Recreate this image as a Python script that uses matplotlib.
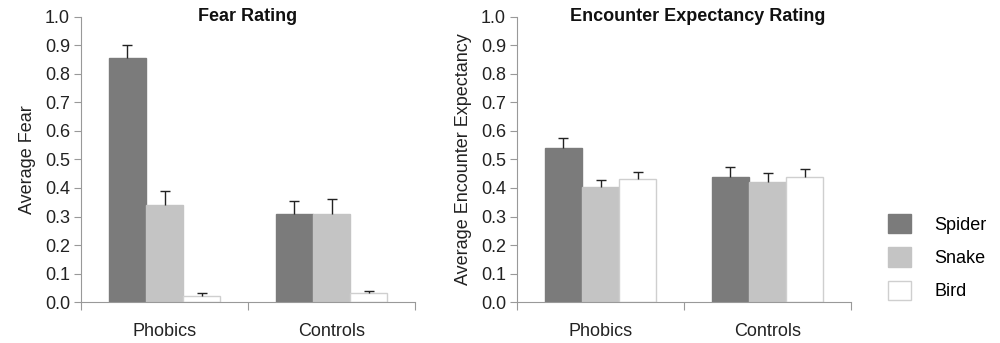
import numpy as np
import matplotlib
matplotlib.use('Agg')
from matplotlib import pyplot as plt

plt.rcParams['font.family'] = ['Liberation Sans', 'DejaVu Sans']

# data
grupos = ['Phobics', 'Controls']
especies = ['Spider', 'Snake', 'Bird']
cores = ['#7b7b7b', '#c4c4c4', '#ffffff']
bordas = ['#7b7b7b', '#c4c4c4', '#cfcfcf']

medo = [[0.855, 0.31], [0.34, 0.31], [0.022, 0.030]]
medo_err = [[0.045, 0.045], [0.05, 0.05], [0.008, 0.008]]

expect = [[0.54, 0.44], [0.405, 0.422], [0.43, 0.44]]
expect_err = [[0.035, 0.032], [0.022, 0.030], [0.025, 0.025]]

fs = 13

fig = plt.figure(figsize=(10, 3.43), dpi=100)
ax1 = fig.add_axes([0.081, 0.1195, 0.334, 0.831])
ax2 = fig.add_axes([0.517, 0.1195, 0.334, 0.831])

def painel(ax, vals, errs, titulo, ylabel, tx):
    x = np.arange(len(grupos)) + 0.5
    w = 0.222
    for i, (v, e) in enumerate(zip(vals, errs)):
        ax.bar(x + (i - 1) * w, v, w, color=cores[i], edgecolor=bordas[i],
               linewidth=1.0, label=especies[i], zorder=2)
        eb = ax.errorbar(x + (i - 1) * w, v, yerr=[np.zeros(len(e)), e], fmt='none',
                         ecolor='#222222', elinewidth=1.0, capsize=3.5, capthick=1.0, zorder=3)
        eb[1][0].set_visible(False)  # sem tampa embaixo
    ax.set_xlim(0, 2)
    ax.set_ylim(0, 1.0)
    ax.set_yticks(np.arange(0, 1.01, 0.1))
    ax.set_yticklabels(['%.1f' % t for t in np.arange(0, 1.01, 0.1)], fontsize=fs, color='#222222')
    ax.set_xticks([0, 1, 2])
    ax.set_xticklabels(['', '', ''])
    ax.set_xticks(x, minor=True)
    ax.set_xticklabels(grupos, minor=True, fontsize=fs, color='#222222')
    ax.tick_params(axis='x', which='major', direction='out', length=6, color='#999999')
    ax.tick_params(axis='x', which='minor', length=0, pad=15)
    ax.tick_params(axis='y', direction='out', length=5, color='#999999', pad=3)
    for s in ['top', 'right']:
        ax.spines[s].set_visible(False)
    for s in ['left', 'bottom']:
        ax.spines[s].set_color('#999999')
    ax.text(tx, 1.0, titulo, transform=ax.transAxes, ha='center', va='center',
            fontsize=fs, fontweight='bold', color='#111111')
    ax.set_ylabel(ylabel, fontsize=fs, color='#222222', labelpad=6)

painel(ax1, medo, medo_err, 'Fear Rating', 'Average Fear', 0.5)
painel(ax2, expect, expect_err, 'Encounter Expectancy Rating', 'Average Encounter Expectancy', 0.54)

h, l = ax2.get_legend_handles_labels()
fig.legend(h, l, loc='center left', bbox_to_anchor=(0.872, 0.25), frameon=False,
           fontsize=fs, handlelength=1.25, handleheight=1.25, labelspacing=0.75,
           handletextpad=1.3)

fig.savefig('out.png', dpi=100)
